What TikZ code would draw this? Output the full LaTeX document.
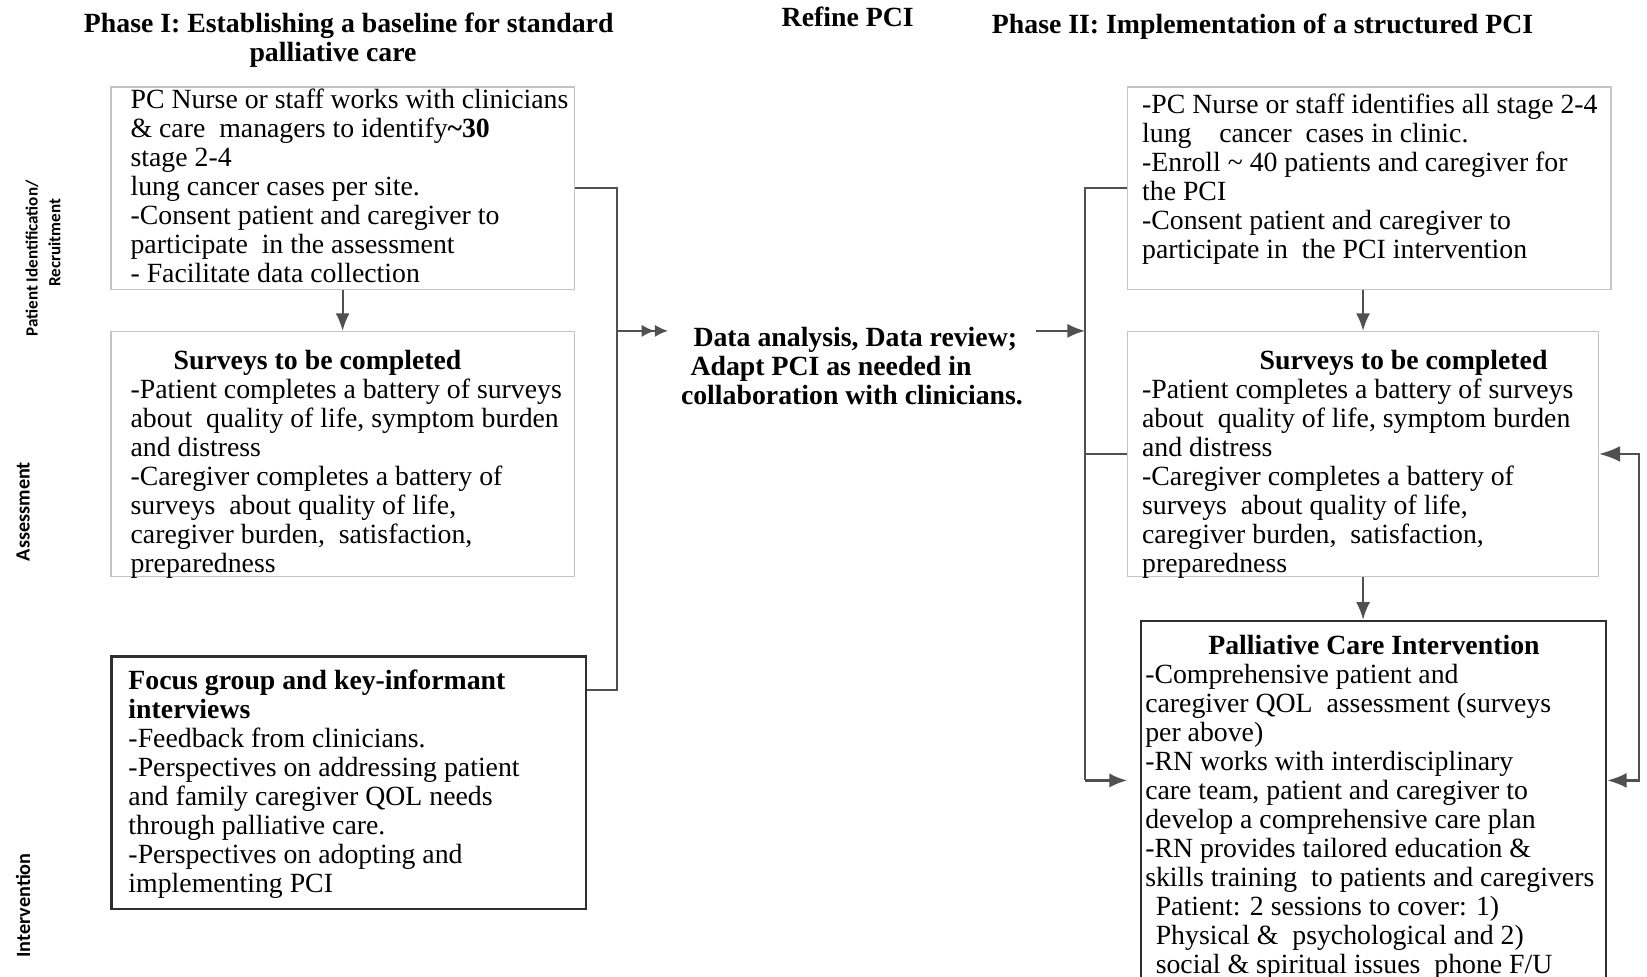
\documentclass[tikz,border=0pt]{standalone}
\usepackage{fontspec}
\setmainfont{Liberation Serif}
\newfontfamily\labfont{Carlito}
\usetikzlibrary{arrows.meta}
\definecolor{linegray}{HTML}{505050}
\definecolor{boxgray}{HTML}{C4C4C4}
\definecolor{boxdark}{HTML}{2E2E2E}

\begin{document}
\begin{tikzpicture}[x=0.021cm, y=-0.021cm,
    >={Latex[length=10pt,width=8pt]},
    conn/.style={linegray, line width=1.2pt},
    lbox/.style={draw=boxgray, line width=0.8pt, anchor=north west, inner sep=0},
    dbox/.style={draw=boxdark, line width=1.3pt, anchor=north west, inner sep=0},
    boxsize/.style 2 args={minimum width=#1*0.021cm, minimum height=#2*0.021cm},
    txt/.style={anchor=north west, inner sep=0, align=left, font={\fontsize{15.8}{16.5}\selectfont}},
    ttl/.style={inner sep=0, align=center, font={\fontsize{15.8}{16.5}\selectfont\bfseries}},
    rowlab/.style={rotate=90, inner sep=0, align=center, font={\labfont\bfseries\fontsize{11.5}{13}\selectfont}}]
  \useasboundingbox (0,0) rectangle (1568,930);
  \clip (0,0) rectangle (1568,930);
  % headings
  \node[ttl] (phaseone) at (332,38) {Phase I: Establishing a baseline for standard\\\hspace*{-0.63cm}palliative care};
  \node[ttl] (refine) at (807,16) {Refine PCI};
  \node[ttl] (phasetwo) at (1202,25) {Phase II: Implementation of a structured PCI};
  % row labels
  \node[rowlab, font={\labfont\bfseries\fontsize{9.7}{13}\selectfont}] (recruit) at (41,246) {Patient Identification/\\\hspace*{0.63cm}Recruitment};
  \node[rowlab] (assess) at (22,487) {Assessment};
  \node[rowlab] (interv) at (22,862) {Intervention};
  % phase I boxes
  \node[lbox, boxsize={441}{193}] (idone) at (105,82) {};
  \node[lbox, boxsize={441}{233}] (surone) at (105,315) {};
  \node[dbox, boxsize={452}{240}] (focus) at (105,624) {};
  \node[txt] (idonetxt) at (124,84) {PC Nurse or staff works with clinicians\\
    \& care\ \ managers to identify\textbf{\textasciitilde30}\\
    stage 2-4\\
    lung cancer cases per site.\\
    -Consent patient and caregiver to\\
    participate\ \ in the assessment\\
    - Facilitate data collection};
  \node[txt] (suronetxt) at (124,333) {\hspace*{0.86cm}\textbf{Surveys to be completed}\\
    -Patient completes a battery of surveys\\
    about\ \ quality of life, symptom burden\\
    and distress\\
    -Caregiver completes a battery of\\
    surveys\ \ about quality of life,\\
    caregiver burden,\ \ satisfaction,\\
    preparedness};
  \node[txt] (focustxt) at (122,637) {\textbf{Focus group and key-informant}\\
    \textbf{interviews}\\
    -Feedback from clinicians.\\
    -Perspectives on addressing patient\\
    and family caregiver QOL needs\\
    through palliative care.\\
    -Perspectives on adopting and\\
    implementing PCI};
  % middle
  \node[txt, font={\fontsize{15.8}{16.5}\selectfont\bfseries}, inner xsep=0.252cm] (analysis) at (636,311) {\hspace*{0.25cm}Data analysis, Data review;\\
    \hspace*{0.19cm}Adapt PCI as needed in\\
    collaboration with clinicians.};
  % phase II boxes
  \node[lbox, boxsize={460}{193}] (idtwo) at (1073,82) {};
  \node[lbox, boxsize={448}{233}] (surtwo) at (1073,315) {};
  \node[dbox, boxsize={443}{360}] (pci) at (1085,590) {};
  \node[txt] (idtwotxt) at (1087,89) {-PC Nurse or staff identifies all stage 2-4\\
    lung\ \ \ \ cancer\ \ cases in clinic.\\
    -Enroll \textasciitilde\ 40 patients and caregiver for\\
    the PCI\\
    -Consent patient and caregiver to\\
    participate in\ \ the PCI intervention};
  \node[txt] (surtwotxt) at (1087,333) {\hspace*{2.35cm}\textbf{Surveys to be completed}\\
    -Patient completes a battery of surveys\\
    about\ \ quality of life, symptom burden\\
    and distress\\
    -Caregiver completes a battery of\\
    surveys\ \ about quality of life,\\
    caregiver burden,\ \ satisfaction,\\
    preparedness};
  \node[txt] (pcitxt) at (1090,604) {\hspace*{1.26cm}\textbf{Palliative Care Intervention}\\
    -Comprehensive patient and\\
    caregiver QOL\ \ assessment (surveys\\
    per above)\\
    -RN works with interdisciplinary\\
    care team, patient and caregiver to\\
    develop a comprehensive care plan\\
    -RN provides tailored education \&\\
    skills training\ \ to patients and caregivers\\
    \hspace*{0.21cm}Patient: 2 sessions to cover: 1)\\
    \hspace*{0.21cm}Physical \&\ \ psychological and 2)\\
    \hspace*{0.21cm}social \& spiritual issues\ \ phone F/U};
  % connectors
  \coordinate (lbus) at (587,657);
  \coordinate (lmid) at (587,315);
  \coordinate (rmid) at (1033,315);
  \coordinate (rbot) at (1033,743);
  \coordinate (rfb) at (1560,743);
  \draw[conn,->] (idone) -- (surone);
  \draw[conn] (idone.east) -| (lbus) -- (lbus -| focus.east);
  \draw[conn,-{Latex[length=7.5pt,width=7pt]Latex[length=7.5pt,width=7pt]}] (lmid) -- (lmid -| analysis.west);
  \draw[conn,->] (rmid -| analysis.east) -- (rmid);
  \draw[conn] (idtwo.west) -| (rbot);
  \draw[conn] (rmid |- surtwo.west) -- (surtwo.west);
  \draw[conn,->] (rbot) -- ++(40,0);
  \draw[conn,->] (idtwo.south -| surtwo.north) -- (surtwo.north);
  \draw[conn,->] (surtwo.south) -- (pci.north -| surtwo.south);
  \draw[conn,{Latex[length=12pt,width=9pt]}-{Latex[length=11pt,width=8.5pt]}] (surtwo.east) -| (rfb) -- (rfb -| pci.east);
\end{tikzpicture}
\end{document}
